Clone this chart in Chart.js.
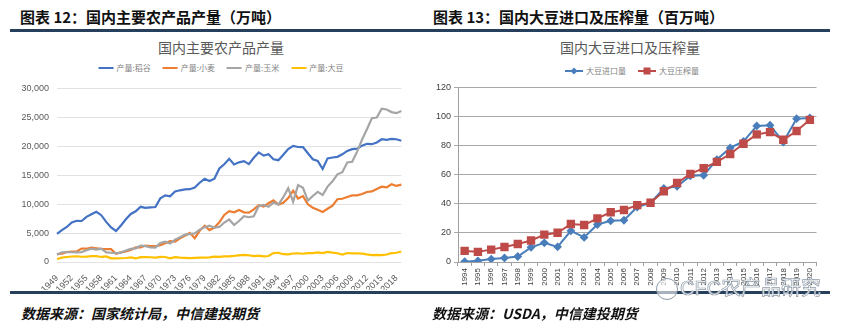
<!DOCTYPE html>
<html>
<head>
<meta charset="utf-8">
<script src="https://cdn.jsdelivr.net/npm/chart.js@4.4.1/dist/chart.umd.min.js"></script>
<style>
body { margin: 0; width: 856px; height: 327px; background: #fff; position: relative; overflow: hidden; font-family: "Noto Sans CJK SC", sans-serif; }
.hd { position: absolute; top: 7px; font-size: 15px; line-height: 19px; font-weight: bold; color: #111; white-space: nowrap; }
.rule { position: absolute; left: 10px; width: 820px; height: 3px; background: #263f5c; }
.ft { position: absolute; top: 304px; font-size: 14px; line-height: 18px; font-weight: bold; font-style: italic; color: #111; white-space: nowrap; }
.ttl { position: absolute; font-size: 14px; line-height: 18px; color: #595959; white-space: nowrap; transform: translateX(-50%); }
.lg { position: absolute; font-size: 8px; line-height: 10px; color: #7f7f7f; white-space: nowrap; transform: translateX(-50%); display: flex; gap: 12px; }
.lg span { display: inline-flex; align-items: center; }
.ln { display: inline-block; width: 15px; height: 2px; margin-right: 3px; position: relative; }
.mk { position: absolute; left: 50%; top: 50%; }
.wrap { position: absolute; }
.wm { position: absolute; left: 680px; top: 276px; font-size: 20px; line-height: 24px; color: rgba(255,255,255,0.85); -webkit-text-stroke: 0.7px #8d9aa8; font-family: "Liberation Sans", "Noto Sans CJK SC", sans-serif; z-index: 5; white-space: nowrap; }
.wmi { position: absolute; left: 656px; top: 278px; width: 20px; height: 20px; border: 1px solid #8d9aa8; border-radius: 50%; background: rgba(255,255,255,0.6); z-index: 5; }
</style>
</head>
<body>

<div class="hd" style="left:20px">图表 12：国内主要农产品产量（万吨）</div>
<div class="hd" style="left:433px">图表 13：国内大豆进口及压榨量（百万吨）</div>
<div class="rule" style="top:29px"></div>
<div class="rule" style="top:291px"></div>

<div class="ttl" style="left:221px;top:38px">国内主要农产品产量</div>
<div class="lg" style="left:221px;top:63px">
  <span><i class="ln" style="background:#4472C4"></i>产量:稻谷</span>
  <span><i class="ln" style="background:#ED7D31"></i>产量:小麦</span>
  <span><i class="ln" style="background:#A5A5A5"></i>产量:玉米</span>
  <span><i class="ln" style="background:#FFC000"></i>产量:大豆</span>
</div>

<div class="ttl" style="left:630px;top:38px">国内大豆进口及压榨量</div>
<div class="lg" style="left:632px;top:66px;gap:12px">
  <span><i class="ln" style="background:#4A7EBB;width:18px"><b class="mk" style="width:5px;height:5px;background:#4A7EBB;transform:translate(-50%,-50%) rotate(45deg)"></b></i>大豆进口量</span>
  <span><i class="ln" style="background:#BE4B48;width:18px"><b class="mk" style="width:7px;height:7px;background:#BE4B48;transform:translate(-50%,-50%)"></b></i>大豆压榨量</span>
</div>

<div class="wrap" style="left:12px;top:75px;width:400px;height:215px"><canvas id="cropChart"></canvas></div>
<div class="wrap" style="left:432px;top:79px;width:391px;height:211px"><canvas id="soyChart"></canvas></div>

<div class="ft" style="left:21px">数据来源：国家统计局，中信建投期货</div>
<div class="ft" style="left:432px">数据来源：USDA，中信建投期货</div>

<div class="wmi"></div>
<div class="wm">CFC农产品研究</div>

<script>
const cropYears = ["1949","1950","1951","1952","1953","1954","1955","1956","1957","1958",
    "1959","1960","1961","1962","1963","1964","1965","1966","1967","1968",
    "1969","1970","1971","1972","1973","1974","1975","1976","1977","1978",
    "1979","1980","1981","1982","1983","1984","1985","1986","1987","1988",
    "1989","1990","1991","1992","1993","1994","1995","1996","1997","1998",
    "1999","2000","2001","2002","2003","2004","2005","2006","2007","2008",
    "2009","2010","2011","2012","2013","2014","2015","2016","2017","2018","2019"];

const riceOutput = [4865,5510,6056,6843,7127,7085,7803,8248,8678,8085,
    6937,5973,5364,6299,7377,8300,8772,9539,9369,9453,
    9507,10999,11521,11336,12174,12391,12556,12581,12857,13693,
    14375,13991,14396,16160,16887,17826,16857,17222,17426,16911,
    18013,18933,18381,18622,17751,17593,18523,19510,20074,19871,
    19849,18791,17758,17454,16066,17909,18059,18172,18603,19190,
    19510,19576,20100,20424,20361,20651,21214,21109,21268,21213,20961];

const wheatOutput = [1381,1450,1723,1813,1828,2334,2297,2480,2364,2259,
    2218,2217,1425,1667,1848,2084,2522,2528,2849,2746,
    2729,2919,3258,3599,3523,4087,4531,5039,4108,5384,
    6273,5521,5964,6847,8139,8782,8581,9004,8590,8543,
    9081,9823,9595,10159,10639,9930,10221,11057,12329,10973,
    11388,9964,9387,9029,8649,9195,9745,10847,10930,11246,
    11512,11518,11740,12102,12193,12621,13019,12885,13424,13144,13360];

const cornOutput = [1242,1685,1684,1685,1669,1714,2032,2305,2144,2314,
    1666,1603,1550,1626,1976,2270,2366,2841,2741,2507,
    2489,3303,3521,3210,3865,4292,4722,4816,4939,5595,
    6004,6260,5921,6056,6821,7341,6383,7086,7924,7735,
    7893,9682,9877,9538,10270,9928,11199,12747,10431,13295,
    12809,10600,11409,12131,11583,13029,13937,15160,15512,17212,
    17326,19075,21131,22956,24845,24976,26499,26361,25907,25717,26077];

const soyOutput = [509,743,861,952,993,908,912,1024,1005,870,
    955,640,621,651,691,790,614,827,830,818,
    760,871,861,645,837,747,724,664,726,757,
    746,794,933,903,976,970,1050,1161,1218,1165,
    1023,1100,971,1030,1531,1600,1350,1322,1473,1515,
    1425,1541,1541,1651,1539,1740,1635,1508,1273,1554,
    1498,1508,1449,1305,1195,1215,1179,1294,1528,1597,1810];

const soyYears = ["1994","1995","1996","1997","1998","1999","2000","2001","2002",
    "2003","2004","2005","2006","2007","2008","2009","2010","2011",
    "2012","2013","2014","2015","2016","2017","2018","2019","2020"];

const soyImports = [0.2,0.8,2.0,2.8,3.8,10.1,13.2,10.4,21.4,
    16.9,25.8,28.3,28.7,37.8,40.6,50.5,52.0,59.2,
    59.6,70.4,78.4,82.9,93.5,94.0,82.5,98.5,99.0];

const soyCrush = [7.6,7.0,8.5,10.3,12.4,14.8,18.8,20.1,26.1,
    25.4,30.0,34.2,35.7,39.1,40.7,48.6,54.3,60.6,
    64.5,68.8,74.2,81.3,87.7,89.3,84.0,90.0,97.7];

Chart.defaults.font.family = '"Liberation Sans", "Noto Sans CJK SC", sans-serif';
Chart.defaults.animation = false;

renderCropChart();

renderSoyChart();

function renderCropChart() {

    new Chart(
        document.getElementById("cropChart"),
        {
            type: "line",
            data: {
                labels: cropYears,
                datasets: [
                    { label: "产量:稻谷", data: riceOutput, borderColor: "#4472C4", backgroundColor: "#4472C4", order: 4 },
                    { label: "产量:小麦", data: wheatOutput, borderColor: "#ED7D31", backgroundColor: "#ED7D31", order: 3 },
                    { label: "产量:玉米", data: cornOutput, borderColor: "#A5A5A5", backgroundColor: "#A5A5A5", order: 2 },
                    { label: "产量:大豆", data: soyOutput, borderColor: "#FFC000", backgroundColor: "#FFC000", order: 1 }
                ]
            },
            options: {
                responsive: true,
                maintainAspectRatio: false,
                layout: { padding: { top: 8, right: 2, left: 0, bottom: 0 } },
                elements: {
                    point: { radius: 0 },
                    line: { borderWidth: 2.2, tension: 0 }
                },
                plugins: {
                    legend: { display: false },
                    tooltip: { enabled: false }
                },
                scales: {
                    x: {
                        grid: { display: false },
                        border: { display: false },
                        ticks: {
                            autoSkip: false,
                            minRotation: 45,
                            maxRotation: 45,
                            padding: 3,
                            color: "#595959",
                            font: { size: 9 },
                            callback: function (v, i) {
                                return i % 3 === 0 ? this.getLabelForValue(v) : "";
                            }
                        },
                        afterFit: s => { s.height = 28; }
                    },
                    y: {
                        min: 0,
                        max: 30000,
                        ticks: { stepSize: 5000, padding: 8, color: "#595959", font: { size: 9 } },
                        grid: { color: "#e2e2e2", drawTicks: false },
                        border: { display: false },
                        afterFit: s => { s.width = 45; }
                    }
                }
            }
        }
    );

}

function renderSoyChart() {

    new Chart(
        document.getElementById("soyChart"),
        {
            type: "line",
            data: {
                labels: soyYears,
                datasets: [
                    {
                        label: "大豆进口量",
                        data: soyImports,
                        borderColor: "#4A7EBB",
                        backgroundColor: "#4A7EBB",
                        borderWidth: 2,
                        pointStyle: "rectRot",
                        pointRadius: 3,
                        order: 2
                    },
                    {
                        label: "大豆压榨量",
                        data: soyCrush,
                        borderColor: "#BE4B48",
                        backgroundColor: "#BE4B48",
                        borderWidth: 2,
                        pointStyle: "rect",
                        pointRadius: 4.5,
                        order: 1
                    }
                ]
            },
            options: {
                responsive: true,
                maintainAspectRatio: false,
                layout: { padding: { top: 8, right: 2, left: 0, bottom: 0 } },
                elements: { line: { tension: 0 } },
                plugins: {
                    legend: { display: false },
                    tooltip: { enabled: false }
                },
                scales: {
                    x: {
                        offset: true,
                        grid: { display: true, drawOnChartArea: false, drawTicks: true, tickLength: 4, color: "#a0a0a0", offset: true },
                        border: { display: true, color: "#a0a0a0" },
                        ticks: {
                            autoSkip: false,
                            minRotation: 90,
                            maxRotation: 90,
                            padding: 2,
                            color: "#404040",
                            font: { size: 8 }
                        },
                        afterFit: s => { s.height = 28; }
                    },
                    y: {
                        min: 0,
                        max: 120,
                        ticks: { stepSize: 20, padding: 3, color: "#404040", font: { size: 9 } },
                        grid: { color: "#a8a8a8", tickLength: 4 },
                        border: { display: true, color: "#a0a0a0" },
                        afterFit: s => { s.width = 26; }
                    }
                }
            }
        }
    );

}
</script>
</body>
</html>
